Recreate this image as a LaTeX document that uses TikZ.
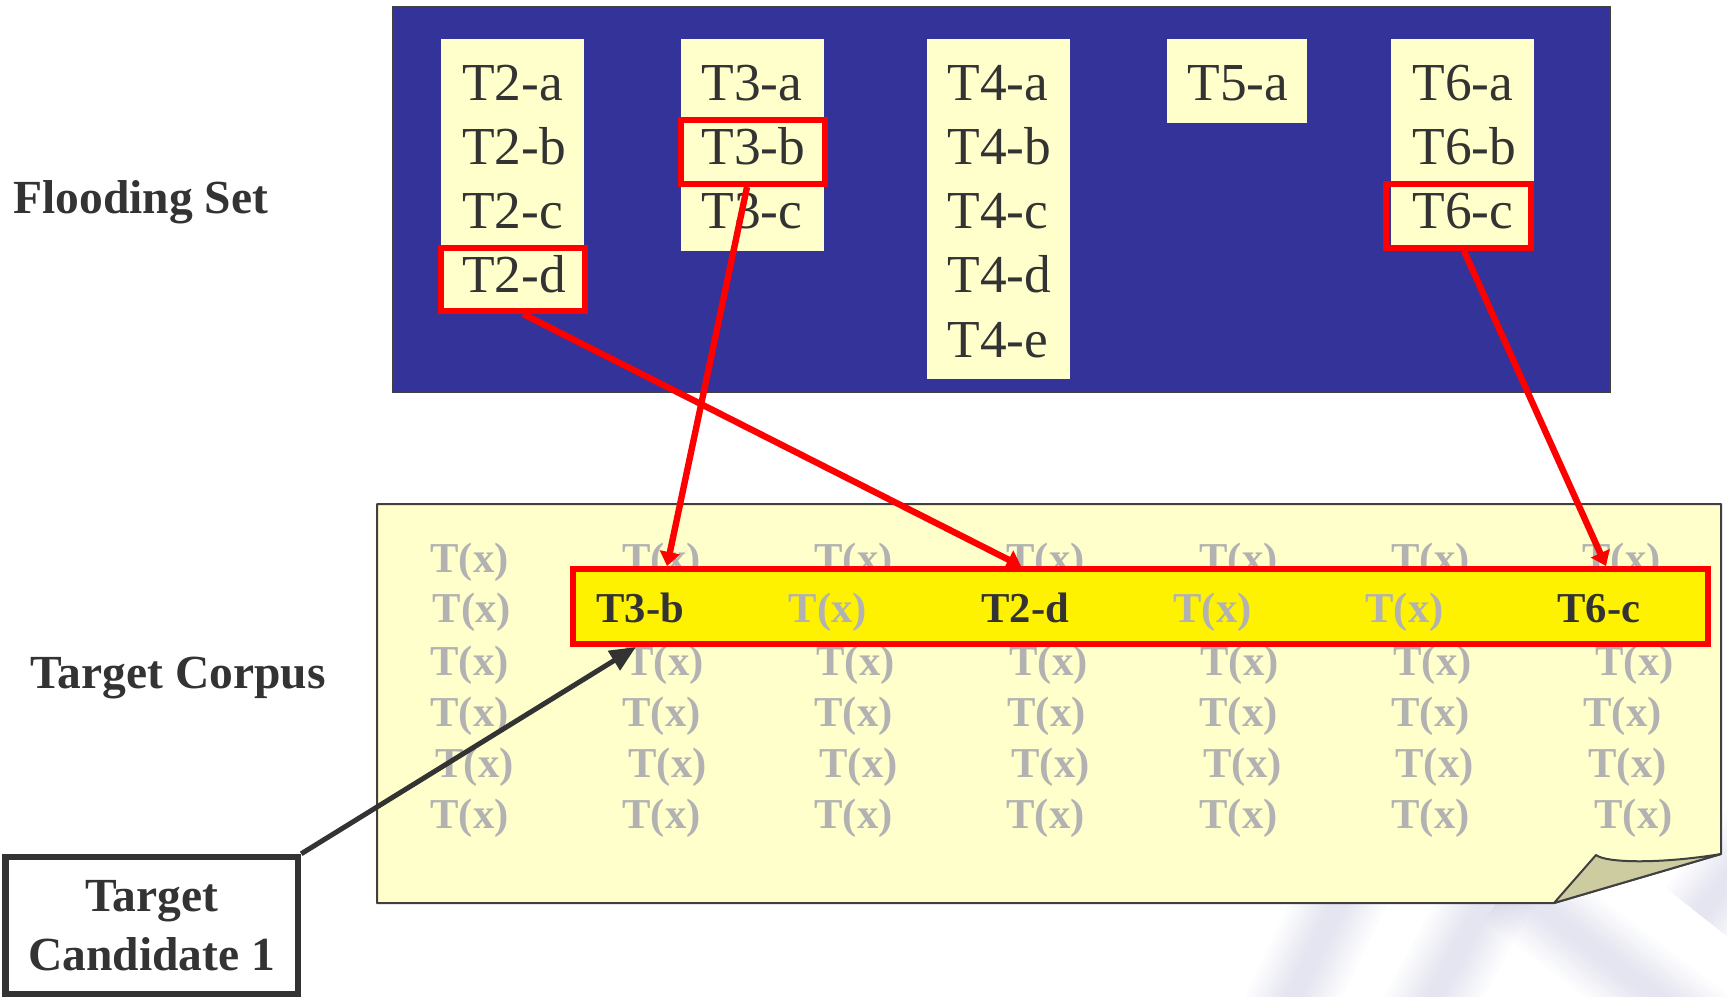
\documentclass[tikz,border=0pt]{standalone}
\usepackage{fontspec}
\setmainfont{Liberation Serif}
\usetikzlibrary{arrows.meta}
\definecolor{ink}{HTML}{333333}
\definecolor{navy}{HTML}{333399}
\definecolor{cream}{HTML}{FFFFCC}
\definecolor{fog}{HTML}{B2B2B2}
\definecolor{khaki}{RGB}{204,204,160}
\definecolor{edge}{HTML}{404040}
\definecolor{haze}{HTML}{4A5099}

\begin{document}
\begin{tikzpicture}[x=0.5pt,y=-0.5pt,
  entry/.style={font=\fontsize{26.7pt}{32pt}\selectfont, text=ink, anchor=base west, inner sep=0pt},
  corpusitem/.style={font=\bfseries\fontsize{21.3pt}{25pt}\selectfont, text=fog, anchor=base west, inner sep=0pt},
  hit/.style={corpusitem, text=ink},
  sidelabel/.style={font=\bfseries\fontsize{23.75pt}{29.5pt}\selectfont, text=ink, inner sep=0pt},
  hilite/.style={draw=red, line width=3pt, inner sep=0pt},
  column/.style={fill=cream},
  link/.style={draw=red, line width=3.2pt, -{Triangle[length=7pt,width=10pt]}},
  pointer/.style={draw=ink, line width=2.5pt, -{Triangle[length=13pt,width=11pt]}},
  wash/.style={haze, opacity=0.014, line cap=butt},
]
\useasboundingbox (0,0) rectangle (1727,996);

% soft background logo strokes
\foreach \w in {44,40,36,32,28,24,20,16,12,8} {
  \draw[wash, line width=\w pt] (1268,1050) -- (1352,875);
  \draw[wash, line width=\w pt] (1405,1050) -- (1500,875);
  \draw[wash, line width=\w pt] (1510,885) -- (1715,1040);
  \draw[wash, line width=\w pt] (1700,915) -- (1775,820);
}

% target corpus sheet with curled corner
\draw[fill=cream, draw=edge, line width=1pt, line join=round]
  (377,504) -- (1721,504) -- (1721,854) -- (1554,903) -- (377,903) -- cycle;
\draw[fill=khaki, draw=edge, line width=1pt, line join=round]
  (1554,903) -- (1596,855) .. controls (1606,863) and (1660,864) .. (1721,854) -- cycle;

% corpus terms
\foreach \xx [count=\c] in {430,622,814,1006,1199,1391,1582}
  \node[corpusitem] (ra\c) at (\xx,572) {T(x)};
\node[corpusitem] (rb1) at (432.5,622) {T(x)};
\foreach \xx [count=\c] in {430,625,816,1009,1200,1393,1595}
  \node[corpusitem] (rc\c) at (\xx,675) {T(x)};
\foreach \xx [count=\c] in {430,622,814,1007,1199,1391,1583}
  \node[corpusitem] (rd\c) at (\xx,726) {T(x)};
\foreach \xx [count=\c] in {435,628,819,1011,1203,1395,1588}
  \node[corpusitem] (re\c) at (\xx,777) {T(x)};
\foreach \xx [count=\c] in {430,622,814,1006,1199,1391,1594}
  \node[corpusitem] (rf\c) at (\xx,828) {T(x)};

% highlighted candidate row
\node[hilite, fill=yellow, minimum width=567.5pt, minimum height=37.5pt] (bar) at (1140.5,606.5) {};
\node[hit] (bt3b) at (596,622) {T3-b};
\node[corpusitem] (bx1) at (788.5,622) {T(x)};
\node[hit] (bt2d) at (981,622) {T2-d};
\node[corpusitem] (bx2) at (1173,622) {T(x)};
\node[corpusitem] (bx3) at (1365,622) {T(x)};
\node[hit] (bt6c) at (1557,622) {T6-c};

% flooding set panel
\draw[fill=navy, draw=edge, line width=1pt] (392.5,7) rectangle (1610,391.5);
\fill[column] (441,39) rectangle (584,311);
\fill[column] (681,39) rectangle (824,251);
\fill[column] (927,39) rectangle (1070,379);
\fill[column] (1167,39) rectangle (1307,123);
\fill[column] (1391,39) rectangle (1534,250);

\foreach \t [count=\i] in {a,b,c,d}
  \node[entry] (e2\t) at (461.7,{100+64.25*(\i-1)}) {T2-\t};
\foreach \t [count=\i] in {a,b,c}
  \node[entry] (e3\t) at (701,{100+64.25*(\i-1)}) {T3-\t};
\foreach \t [count=\i] in {a,b,c,d,e}
  \node[entry] (e4\t) at (947,{100+64.25*(\i-1)}) {T4-\t};
\node[entry] (e5a) at (1187,100) {T5-a};
\foreach \t [count=\i] in {a,b,c}
  \node[entry] (e6\t) at (1412,{100+64.25*(\i-1)}) {T6-\t};

% selected translations
\node[hilite, minimum width=72pt, minimum height=31.5pt] (t2d) at (513,279.5) {};
\node[hilite, minimum width=72pt, minimum height=32pt] (t3b) at (753,152) {};
\node[hilite, minimum width=72.5pt, minimum height=32pt] (t6c) at (1458,216) {};

% side labels
\node[sidelabel, anchor=base west] (floodlbl) at (13,213) {Flooding Set};
\node[sidelabel, anchor=base west] (corpuslbl) at (30,688) {Target Corpus};
\node[sidelabel, draw=ink, line width=3.25pt, fill=white, align=center,
      minimum width=146.25pt, minimum height=68.5pt] (cand) at (151.75,925.5) {Target\\Candidate 1};

% connectors
\coordinate (in3b) at (667,566);
\coordinate (in2d) at (1021,566);
\coordinate (in6c) at (1606,566);
\coordinate (under3b) at (636,647);
\draw[link] ([xshift=-3pt]t3b.south) -- (in3b);
\draw[link] ([xshift=5pt]t2d.south) -- (in2d);
\draw[link] ([xshift=3pt]t6c.south) -- (in6c);
\draw[pointer] (cand.north east) -- (under3b);
\end{tikzpicture}
\end{document}
